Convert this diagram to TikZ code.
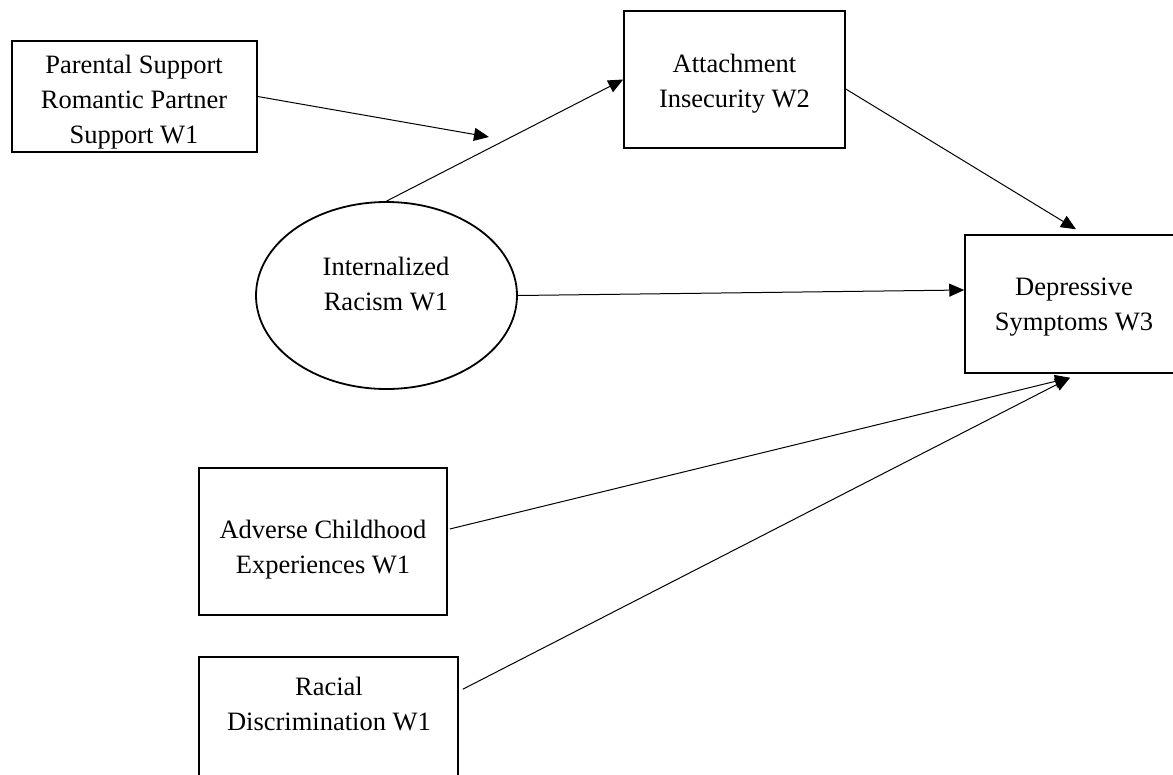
\documentclass[tikz,border=0pt]{standalone}
\usepackage{fontspec}
\setmainfont{Liberation Serif}
\usetikzlibrary{arrows.meta,calc,shapes.geometric}
\begin{document}
\begin{tikzpicture}[x=1pt,y=-1pt,
  box/.style={draw,line width=1.5pt,rectangle,inner sep=0pt},
  lat/.style={draw,line width=1.8pt,ellipse,inner sep=0pt},
  txt/.style={align=center,font=\fontsize{26.5}{35}\selectfont,inner sep=0pt},
  effect/.style={line width=1pt,-{Triangle[length=15pt,width=13pt]}}]
\useasboundingbox (0,0) rectangle (1173,774);
\clip (0,0) rectangle (1173,774);
% shapes
\node[box,minimum width=245pt,minimum height=111pt] (ps) at (134.5,96.5) {};
\node[box,minimum width=221pt,minimum height=137pt] (ai) at (734.5,79.5) {};
\node[lat,minimum width=261pt,minimum height=187pt] (ir) at (386.5,295.5) {};
\node[box,minimum width=218pt,minimum height=138pt] (dep) at (1074,304) {};
\node[box,minimum width=248pt,minimum height=147pt] (ae) at (323,541.5) {};
\node[box,minimum width=259pt,minimum height=143pt] (rd) at (328.5,728.5) {};
% texts
\node[txt] (pst) at (134,102.5) {Parental Support\\Romantic Partner\\Support W1};
\node[txt] (ait) at (734.5,83.5) {Attachment\\Insecurity W2};
\node[txt] (irt) at (386,284.5) {Internalized\\Racism W1};
\node[txt] (dept) at (1074,307.5) {Depressive\\Symptoms W3};
\node[txt] (aet) at (323,550) {Adverse Childhood\\Experiences W1};
\node[txt] (rdt) at (329,704) {Racial\\Discrimination W1};
% connectors
\coordinate (mod) at (489,137);
\coordinate (dtop) at ($(dep.north)+(2,-5)$);
\coordinate (dleft) at ($(dep.west)+(0,-14)$);
\coordinate (dbot) at ($(dep.south)+(-4,4)$);
\draw[effect] (ps.east) -- (mod);
\draw[effect] (ir.north) -- (ai.west);
\draw[effect] ($(ai.east)+(0,9.5)$) -- (dtop);
\draw[effect] (ir.east) -- (dleft);
\draw[effect] ($(ae.east)+(2,-12.5)$) -- (dbot);
\draw[effect] ($(rd.north east)+(4,33)$) -- (dbot);
\end{tikzpicture}
\end{document}
